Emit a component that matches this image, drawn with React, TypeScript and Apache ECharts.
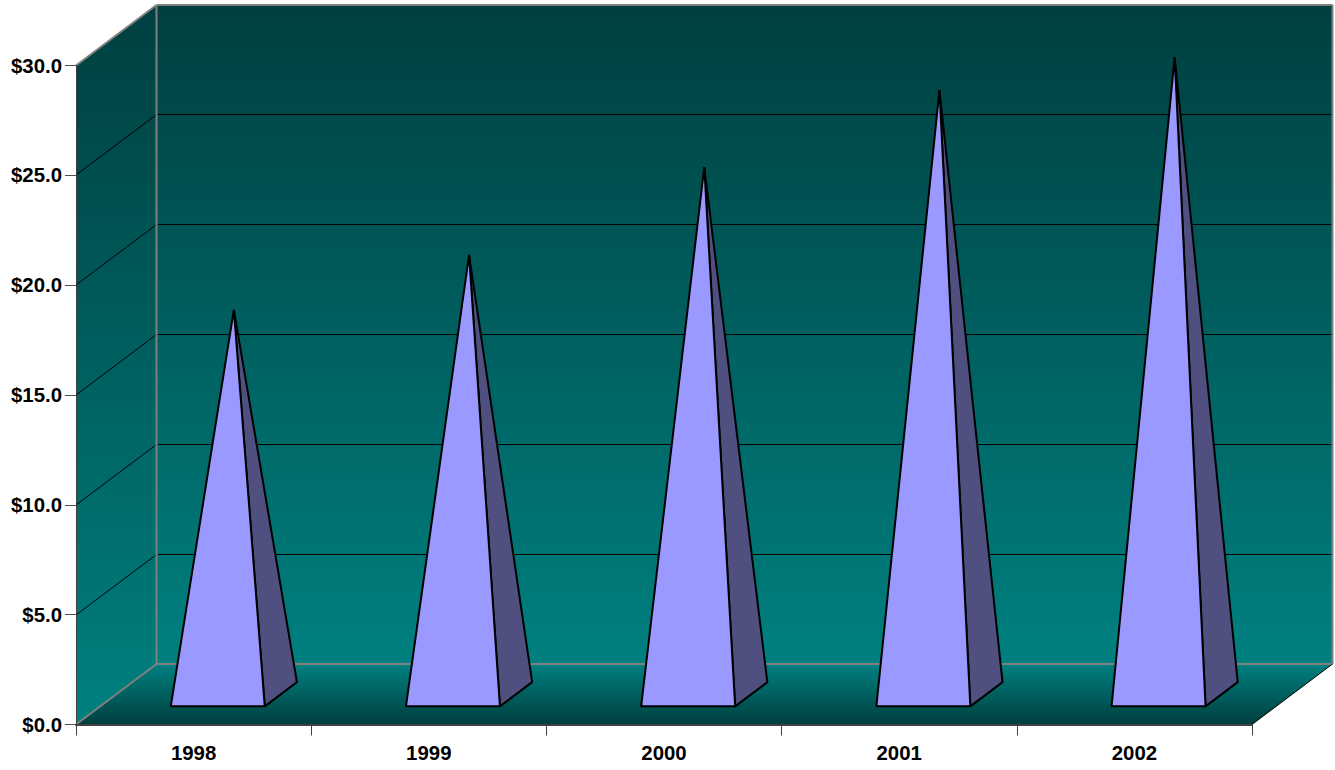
import React, { useEffect, useRef } from "react";
import * as echarts from "echarts";

const categories = ["1998", "1999", "2000", "2001", "2002"];
const values = [17.5, 20, 24, 27.5, 29];
const gridTicks = [5, 10, 15, 20, 25, 30];

const DEPTH_X = 80.5;
const DEPTH_Y = 60.5;
const BASE_FRONT = 0.3;
const BASE_BACK = 0.7;
const BASE_HALF = 47;
const TEAL = "#008080";
const DARK = "#003f3f";

function wallsItem(params: any, api: any) {
  const cs = params.coordSys;
  const x0 = cs.x, x1 = cs.x + cs.width;
  const y0 = api.coord([0, 0])[1];
  const yTop = api.coord([0, 30])[1];
  const dx = DEPTH_X, dy = DEPTH_Y;
  const wallFill = new echarts.graphic.LinearGradient(0, yTop - dy, 0, y0 - dy, [
    { offset: 0, color: DARK },
    { offset: 1, color: TEAL },
  ], true);
  const leftFill = new echarts.graphic.LinearGradient(0, yTop - dy, 0, y0, [
    { offset: 0, color: DARK },
    { offset: 1, color: TEAL },
  ], true);
  const floorFill = new echarts.graphic.LinearGradient(0, y0 - dy, 0, y0, [
    { offset: 0, color: TEAL },
    { offset: 1, color: DARK },
  ], true);
  const poly = (points: number[][], fill: any) => ({ type: "polygon", shape: { points }, style: { fill, stroke: "none" } });
  const seg = (a: number[], b: number[], stroke: string, lineWidth: number) => ({
    type: "line",
    shape: { x1: a[0], y1: a[1], x2: b[0], y2: b[1] },
    style: { stroke, lineWidth, fill: "none" },
  });
  const children: any[] = [
    poly([[x0 + dx, yTop - dy], [x1 + dx, yTop - dy], [x1 + dx, y0 - dy], [x0 + dx, y0 - dy]], wallFill),
    poly([[x0, yTop], [x0 + dx, yTop - dy], [x0 + dx, y0 - dy], [x0, y0]], leftFill),
    poly([[x0, y0], [x0 + dx, y0 - dy], [x1 + dx, y0 - dy], [x1, y0]], floorFill),
  ];
  gridTicks.slice(0, -1).forEach((t) => {
    const y = Math.floor(api.coord([0, t])[1] - dy) + 0.5;
    const yf = y + dy;
    children.push(seg([x0, yf], [x0 + dx, y], "#000", 1));
    children.push(seg([x0 + dx, y], [x1 + dx, y], "#000", 1));
  });
  children.push(seg([x0, yTop], [x0 + dx, yTop - dy], "#808080", 2));
  children.push(seg([x0 + dx, yTop - dy], [x1 + dx, yTop - dy], "#808080", 2));
  children.push(seg([x0 + dx, yTop - dy], [x0 + dx, y0 - dy], "#808080", 2));
  children.push(seg([x1 + dx, yTop - dy], [x1 + dx, y0 - dy], "#808080", 2));
  children.push(seg([x0 + dx, y0 - dy], [x1 + dx, y0 - dy], "#808080", 2));
  children.push(seg([x0, y0], [x0 + dx, y0 - dy], "#808080", 2));
  children.push(seg([x1, y0], [x1 + dx, y0 - dy], "#000", 1));
  return { type: "group", children };
}

function pyramidItem(_params: any, api: any) {
  const c = api.coord([api.value(0), 0]);
  const top = api.coord([api.value(0), api.value(1)]);
  const at = (d: number, off: number, y: number) => [c[0] + off + DEPTH_X * d, y - DEPTH_Y * d];
  const fl = at(BASE_FRONT, -BASE_HALF, c[1]);
  const fr = at(BASE_FRONT, BASE_HALF, c[1]);
  const br = at(BASE_BACK, BASE_HALF, c[1]);
  const apex = at(0.5, 0, top[1]);
  const stroke = { stroke: "#000", lineWidth: 2, lineJoin: "bevel" };
  return {
    type: "group",
    children: [
      { type: "polygon", shape: { points: [fr, br, apex] }, style: { fill: "#4f4f80", ...stroke } },
      { type: "polygon", shape: { points: [fl, fr, apex] }, style: { fill: "#9999ff", ...stroke } },
    ],
  };
}

export default function App() {
  const ref = useRef<HTMLDivElement>(null);
  useEffect(() => {
    const chart = echarts.init(ref.current!, undefined, { renderer: "svg" });
    const labelFont = { fontFamily: "Liberation Sans", fontWeight: "bold", fontSize: 20.4, color: "#000" };
    chart.setOption({
      animation: false,
      backgroundColor: "#fff",
      grid: { left: 76, right: 83, top: 65.5, bottom: 45.5, containLabel: false },
      xAxis: {
        type: "category",
        data: categories,
        boundaryGap: true,
        axisLine: { show: true, onZero: false, lineStyle: { color: "#404040", width: 2 } },
        axisTick: { show: true, length: 11, lineStyle: { color: "#404040", width: 1 } },
        axisLabel: { ...labelFont, margin: 18.5, interval: 0 },
        z: 5,
      },
      yAxis: {
        type: "value",
        min: 0,
        max: 30,
        interval: 5,
        axisLine: { show: true, lineStyle: { color: "#404040", width: 1 } },
        axisTick: { show: true, length: 11, lineStyle: { color: "#505050", width: 1 } },
        axisLabel: { ...labelFont, margin: 14, formatter: (v: number) => "$" + v.toFixed(1) },
        splitLine: { show: false },
        z: 5,
      },
      series: [
        { type: "custom", name: "walls", z: 1, silent: true, data: [[0, 0]], encode: { x: 0, y: 1 }, renderItem: wallsItem },
        { type: "custom", name: "Value", z: 2, data: values.map((v, i) => [i, v]), encode: { x: 0, y: 1 }, renderItem: pyramidItem },
      ],
    });
    return () => chart.dispose();
  }, []);
  return <div ref={ref} style={{ position: "absolute", left: 0, top: 0, width: 1335, height: 770 }} />;
}
